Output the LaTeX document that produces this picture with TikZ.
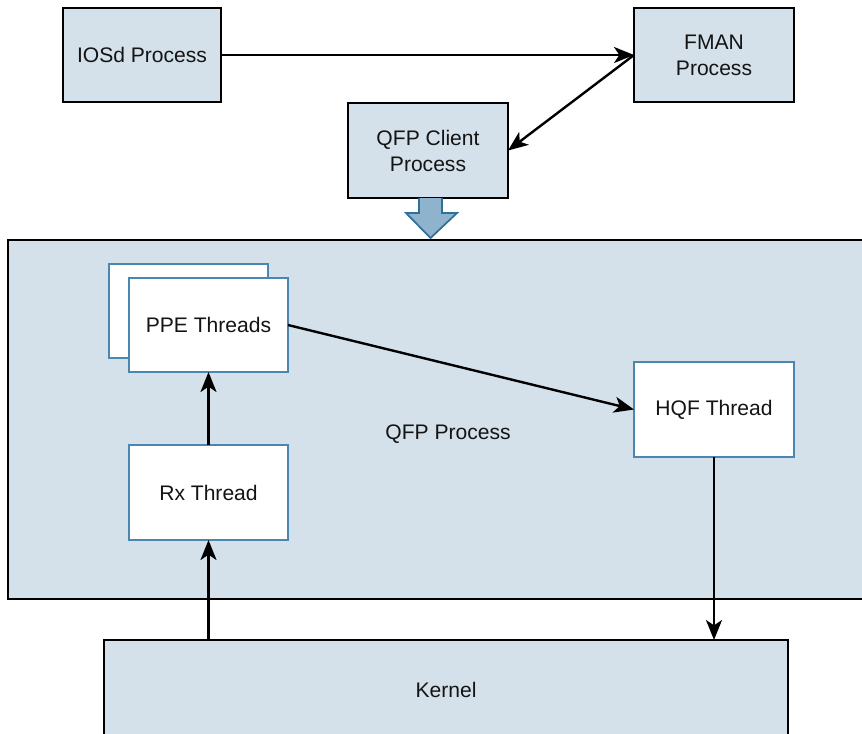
\documentclass[tikz,border=0pt]{standalone}
\usepackage{fontspec}
\setmainfont{Liberation Sans}
\usetikzlibrary{arrows.meta}
\definecolor{boxfill}{HTML}{D4E1EA}
\definecolor{thrborder}{HTML}{4A86B0}
\definecolor{fatfill}{HTML}{8FB3CC}
\definecolor{fatborder}{HTML}{2F6F9A}
\begin{document}
\begin{tikzpicture}[x=0.75pt,y=-0.75pt,
  txt/.style={font=\fontsize{15.8}{19.5}\selectfont, align=center, text=black!92},
  procbox/.style={txt, draw=black, line width=2pt, fill=boxfill, inner sep=0pt, outer sep=0pt},
  thrbox/.style={txt, draw=thrborder, line width=0.9pt, fill=white, inner sep=0pt, outer sep=0pt,
     minimum width=119.25pt, minimum height=70.5pt},
  arr/.style={draw=black, line width=1.8pt, -{Stealth[length=15pt,width=12pt,inset=4pt]}},
  fat/.style={draw=fatborder, fill=fatfill, line width=1.3pt, line join=miter}
]
\clip (0,0) rectangle (862,733);
\useasboundingbox (0,0) rectangle (862,733);
\fill[white] (0,0) rectangle (862,733);

% container QFP process
\node[procbox, minimum width=654pt, minimum height=269.25pt] (qfp) at (444,419.5) {};
\node[txt] (qfplabel) at (448,434) {QFP Process};

% kernel
\node[procbox, minimum width=513pt, minimum height=75pt] (kernel) at (446,690) {Kernel};

% top processes
\node[procbox, minimum width=118.5pt, minimum height=70.5pt] (iosd) at (142,55) {IOSd Process};
\node[procbox, minimum width=120pt, minimum height=70.5pt] (fman) at (714,55) {FMAN\\Process};
\node[procbox, minimum width=120pt, minimum height=71.25pt] (client) at (428,150.5) {QFP Client\\Process};

% threads
\node[thrbox] (ppeback) at (188.5,311) {};
\node[thrbox] (ppe) at (208.5,325) {PPE Threads};
\node[thrbox, minimum height=71.25pt] (rx) at (208.5,492.5) {Rx Thread};
\node[thrbox, minimum width=120pt, minimum height=71.25pt] (hqf) at (714,409.5) {HQF Thread};

% fat arrow
\begin{scope}[shift={(client.south)}]
\draw[fat] (-9,0) -- (-9,15) -- (-22,15) -- (2.5,40) -- (29,15) -- (14,15) -- (14,0);
\end{scope}

% connectors
\draw[arr] (iosd) -- (fman);
\draw[arr] (fman.west) -- (client.east);
\draw[arr] (ppe.east) -- (hqf.west);
\draw[arr] (rx) -- (ppe);
\draw[arr] (kernel.north -| rx) -- (rx);
\draw[arr] (hqf) -- (hqf |- kernel.north);
\end{tikzpicture}
\end{document}
